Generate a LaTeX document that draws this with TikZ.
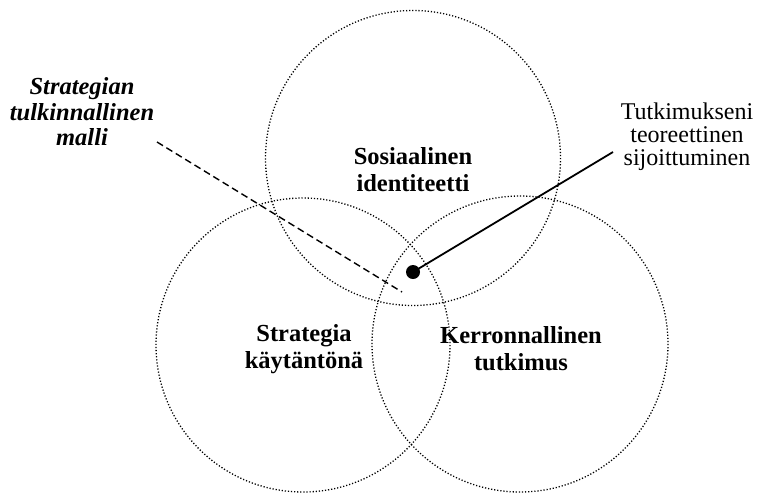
\documentclass[tikz,border=0pt]{standalone}
\usepackage{fontspec}
\setmainfont{Liberation Serif}
\begin{document}
\begin{tikzpicture}[x=1pt,y=-1pt,
  ring/.style={draw, line width=1.3pt, dash pattern=on 1.2pt off 1.9pt},
  lab/.style={font=\bfseries\fontsize{24.5}{27}\selectfont, align=center, inner sep=0pt},
  note/.style={font=\fontsize{24}{23}\selectfont, align=center, inner sep=0pt},
  inote/.style={font=\bfseries\itshape\fontsize{24.5}{25.5}\selectfont, align=center, inner sep=0pt}]
\useasboundingbox (0,0) rectangle (757,493);
\draw[ring] (413,158) circle (147.5);
\draw[ring] (303,345) circle (147);
\draw[ring] (520,344) circle (148);
\node[lab] (soc) at (413,170) {Sosiaalinen\\identiteetti};
\node[lab] (str) at (304,349) {Strategia\\käytäntönä};
\node[lab] (ker) at (521,349) {Kerronnallinen\\tutkimus};
\node[note] (tut) at (687,137) {Tutkimukseni\\teoreettinen\\sijoittuminen};
\node[inote] (mal) at (82,112) {Strategian\\tulkinnallinen\\malli};
\coordinate (dashs) at (157,142);
\coordinate (dashe) at (402,292);
\coordinate (sols) at (613,152);
\node[circle, fill=black, minimum size=14pt, inner sep=0pt] (dot) at (413,272) {};
\draw[line width=1.4pt, dash pattern=on 7pt off 4pt] (dashs) -- (dashe);
\draw[line width=1.8pt] (dot.center) -- (sols);
\end{tikzpicture}
\end{document}
